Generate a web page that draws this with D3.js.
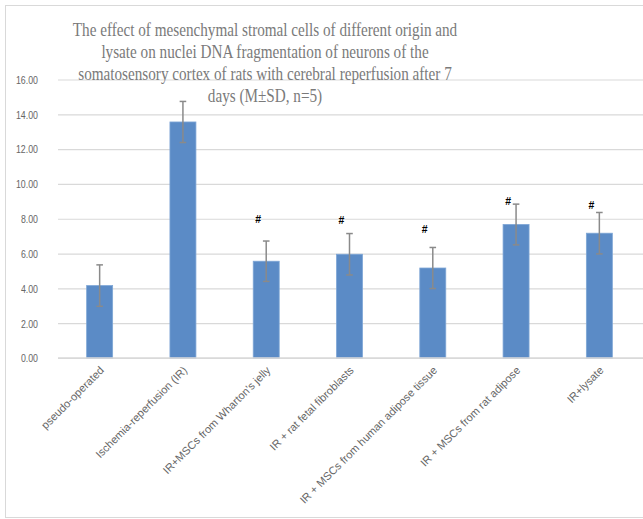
<!DOCTYPE html>
<html>
<head>
<meta charset="utf-8">
<script src="https://cdn.jsdelivr.net/npm/d3@7/dist/d3.min.js"></script>
<style>
  html, body { margin: 0; padding: 0; background: #fff; }
  svg { display: block; }
</style>
</head>
<body>
<svg id="chart" width="643" height="519"></svg>
<script>
// Groups, means and standard deviations (M±SD, n=5)
const categories = [
  "pseudo-operated",
  "Ischemia-reperfusion (IR)",
  "IR+MSCs from Wharton's jelly",
  "IR + rat fetal fibroblasts",
  "IR + MSCs from human adipose tissue",
  "IR + MSCs from rat adipose",
  "IR+lysate"
];
const means = [4.16, 13.56, 5.56, 5.96, 5.17, 7.67, 7.17];
const sds = [1.19, 1.18, 1.16, 1.19, 1.18, 1.17, 1.19];
// Significance marks (#) vs. IR group, with the value level they sit at
const hashMarks = ["", "", "#", "#", "#", "#", "#"];
const hashLevels = [null, null, 7.97, 7.91, 7.38, 8.99, 8.76];
const yTicks = [0, 2, 4, 6, 8, 10, 12, 14, 16];
const titleLines = [
  "The effect of mesenchymal stromal cells of different origin and",
  "lysate on nuclei DNA fragmentation of neurons of the",
  "somatosensory cortex of rats with cerebral reperfusion after 7",
  "days (M\u00B1SD, n=5)"
];

const svg = d3.select("#chart");
const W = 643, H = 519;

// outer chart frame
svg.append("rect")
  .attr("x", 5.5).attr("y", 5.5)
  .attr("width", W + 10).attr("height", 512)
  .attr("fill", "#fff")
  .attr("stroke", "#d9d9d9").attr("stroke-width", 1);

const x = d3.scaleBand()
  .domain(categories)
  .range([58, 641])
  .paddingInner(0.688)
  .paddingOuter(0.344);

const y = d3.scaleLinear().domain([0, 16]).range([358, 79.5]);

// horizontal gridlines + value labels
const yAxis = d3.axisLeft(y)
  .tickValues(yTicks)
  .tickSize(-(W - 58))
  .tickFormat(d3.format(".2f"));

const gy = svg.append("g")
  .attr("transform", "translate(58,0)")
  .call(yAxis);
gy.select(".domain").remove();
gy.selectAll(".tick line")
  .attr("stroke", "#d9d9d9")
  .attr("stroke-width", 1.2);
gy.selectAll(".tick text")
  .attr("x", 0)
  .attr("dy", "0.35em")
  .attr("fill", "#666")
  .style("font-family", "'Liberation Sans', Arial, sans-serif")
  .style("font-size", "11px")
  .attr("text-anchor", "end")
  .attr("transform", "translate(-20,0) scale(0.8,1)");

// title
const title = svg.append("g")
  .attr("transform", "translate(265,0) scale(0.8,1)");
title.selectAll("text")
  .data(titleLines)
  .join("text")
  .attr("x", 0)
  .attr("y", (d, i) => 36 + i * 22)
  .attr("text-anchor", "middle")
  .attr("fill", "#7a7a7a")
  .style("font-family", "'Liberation Serif', 'Times New Roman', serif")
  .style("font-size", "19px")
  .text(d => d);

// bars
svg.append("g")
  .selectAll("rect")
  .data(categories)
  .join("rect")
  .attr("x", d => x(d))
  .attr("y", (d, i) => y(means[i]))
  .attr("width", x.bandwidth())
  .attr("height", (d, i) => y(0) - y(means[i]))
  .attr("fill", "#5b8bc6")
  .attr("stroke", "#7ea6d6")
  .attr("stroke-width", 0.8);

// error bars
const eb = svg.append("g")
  .attr("stroke", "#8a8a8a")
  .attr("stroke-width", 1.5)
  .attr("fill", "none");
categories.forEach((c, i) => {
  const cx = x(c) + x.bandwidth() / 2;
  const top = y(means[i] + sds[i]);
  const bot = y(means[i] - sds[i]);
  eb.append("line").attr("x1", cx).attr("x2", cx).attr("y1", top).attr("y2", bot);
  eb.append("line").attr("x1", cx - 3.3).attr("x2", cx + 3.3).attr("y1", top).attr("y2", top);
  eb.append("line").attr("x1", cx - 3.3).attr("x2", cx + 3.3).attr("y1", bot).attr("y2", bot);
});

// significance marks
svg.append("g")
  .selectAll("text")
  .data(categories.filter((c, i) => hashMarks[i]))
  .join("text")
  .attr("x", d => x(d) + x.bandwidth() / 2 - 8)
  .attr("y", d => y(hashLevels[categories.indexOf(d)]))
  .attr("dy", "0.35em")
  .attr("text-anchor", "middle")
  .attr("fill", "#000")
  .style("font-family", "'Liberation Sans', Arial, sans-serif")
  .style("font-size", "10.5px")
  .style("font-weight", "bold")
  .text(d => hashMarks[categories.indexOf(d)]);

// axis baseline
svg.append("line")
  .attr("x1", 58).attr("x2", W)
  .attr("y1", y(0)).attr("y2", y(0))
  .attr("stroke", "#d9d9d9").attr("stroke-width", 1.5);

// rotated category labels
svg.append("g")
  .selectAll("text")
  .data(categories)
  .join("text")
  .attr("transform", d => `translate(${x(d) + x.bandwidth() / 2 + 5},${y(0) + 13}) rotate(-45)`)
  .attr("text-anchor", "end")
  .attr("fill", "#666")
  .style("font-family", "'Liberation Sans', Arial, sans-serif")
  .style("font-size", "11px")
  .text(d => d);
</script>
</body>
</html>
